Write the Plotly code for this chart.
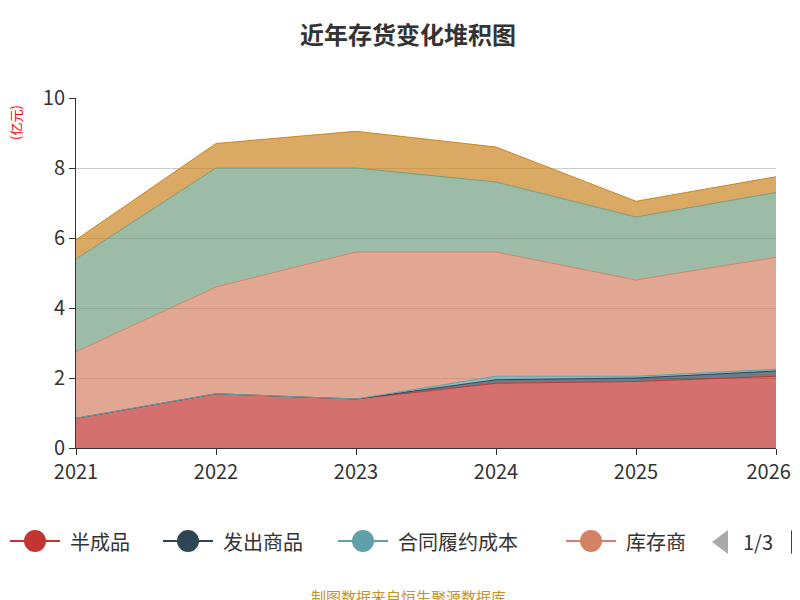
import plotly.graph_objects as go

years = ["2021", "2022", "2023", "2024", "2025", "2026H"]
semi = [0.85, 1.55, 1.40, 1.85, 1.90, 2.05]
shipped = [0.0, 0.0, 0.0, 0.10, 0.10, 0.15]
contract = [0.0, 0.0, 0.0, 0.10, 0.05, 0.05]
stock = [1.90, 3.05, 4.20, 3.55, 2.75, 3.20]
raw = [2.65, 3.40, 2.40, 2.00, 1.80, 1.85]
wip = [0.55, 0.70, 1.05, 1.00, 0.45, 0.45]

series = [
    ("半成品", semi, "#c23531", "rgba(194,53,49,0.7)"),
    ("发出商品", shipped, "#2f4554", "rgba(47,69,84,0.7)"),
    ("合同履约成本", contract, "#61a0a8", "rgba(97,160,168,0.7)"),
    ("库存商品", stock, "#d48265", "rgba(212,130,101,0.7)"),
    ("原材料", raw, "#749f83", "rgba(116,159,131,0.7)"),
    ("在产品", wip, "#ca8622", "rgba(202,134,34,0.7)"),
]

fig = go.Figure()
for name, vals, lc, fc in series:
    fig.add_trace(go.Scatter(x=years, y=vals, name=name, stackgroup="one",
                             mode="lines", line=dict(color=lc, width=1),
                             fillcolor=fc, showlegend=False))

def px(x): return (x - 68) / 700
def py(y): return (440 - y) / 350

ann = [
    dict(text="<b>近年存货变化堆积图</b>", x=px(400), y=py(25),
         font=dict(size=24, color="#333")),
    dict(text="(亿元)", x=px(8), y=py(115), textangle=-90, font=dict(size=13, color="red")),
    dict(text="制图数据来自恒生聚源数据库", x=px(400), y=py(588), font=dict(size=15, color="#c8922a")),
    dict(text="1/3", x=px(750), y=py(533), font=dict(size=20, color="#333")),
]
shapes = []
legend_items = [("半成品", 27, "#c23531"), ("发出商品", 180, "#2f4554"),
                ("合同履约成本", 355, "#61a0a8"), ("库存商", 583, "#d48265")]
for name, cx, col in legend_items:
    shapes.append(dict(type="line", xref="paper", yref="paper", x0=px(cx-25), x1=px(cx+25),
                       y0=py(533), y1=py(533), line=dict(color=col, width=2)))
    shapes.append(dict(type="circle", xref="paper", yref="paper", x0=px(cx-11), x1=px(cx+11),
                       y0=py(544), y1=py(522), fillcolor=col, line=dict(color=col, width=0)))
    ann.append(dict(text=name, x=px(cx+33), y=py(533), xanchor="left",
                    font=dict(size=20, color="#333")))
shapes.append(dict(type="path", xref="paper", yref="paper",
                   path=f"M {px(720)},{py(522)} L {px(720)},{py(546)} L {px(704)},{py(534)} Z",
                   fillcolor="#aaa", line=dict(width=0)))
shapes.append(dict(type="path", xref="paper", yref="paper",
                   path=f"M {px(783)},{py(522)} L {px(783)},{py(546)} L {px(799)},{py(534)} Z",
                   fillcolor="#2f4554", line=dict(width=0)))
for a in ann:
    a.setdefault("xref", "paper"); a.setdefault("yref", "paper"); a.setdefault("showarrow", False)
    a.setdefault("xanchor", "center"); a.setdefault("yanchor", "middle")

fig.update_layout(
    width=800, height=600, margin=dict(l=68, r=32, t=90, b=160, autoexpand=False),
    plot_bgcolor="white", paper_bgcolor="white",
    font=dict(family="Noto Sans CJK SC", color="#333"),
    annotations=ann, shapes=shapes,
    xaxis=dict(range=[0, 5], showgrid=False, showline=True, linecolor="#333",
               ticks="outside", ticklen=6, tickcolor="#333", tickfont=dict(size=20),
               automargin=False),
    yaxis=dict(range=[0, 10], dtick=2, showgrid=True, gridcolor="#ccc", showline=True,
               linecolor="#333", ticks="outside", ticklen=6, tickcolor="#333",
               tickfont=dict(size=20), zeroline=False, automargin=False),
)
fig.write_html("out.html")
